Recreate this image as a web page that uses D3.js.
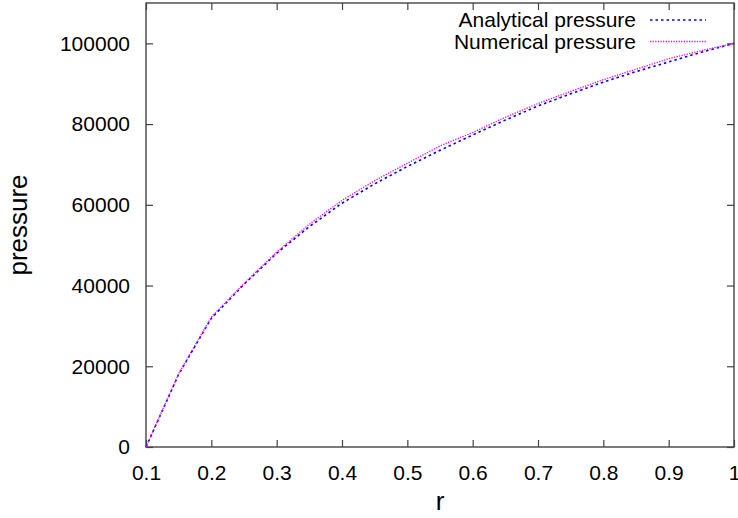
<!DOCTYPE html>
<html>
<head>
<meta charset="utf-8">
<script src="https://cdn.jsdelivr.net/npm/d3@7"></script>
<style>
  body { margin: 0; background: #fff; }
  text { font-family: "Liberation Sans", Arial, sans-serif; fill: #000; }
</style>
</head>
<body>
<div id="chart"></div>
<script>
// radius values sampled along the curves
const rValues = [0.1, 0.15, 0.2, 0.25, 0.3, 0.35, 0.4, 0.45, 0.5, 0.55, 0.6, 0.65, 0.7, 0.75, 0.8, 0.85, 0.9, 0.95, 1.0]
const analyticalPressure = [0, 18000, 31900, 40300, 48000, 54600, 60400, 65200, 69500, 73500, 77300, 81000, 84500, 87500, 90400, 93000, 95400, 97800, 100000]
const numericalPressure = [0, 18200, 32200, 40500, 48300, 55200, 61100, 66000, 70300, 74600, 77900, 81700, 85100, 88100, 91000, 93600, 96200, 98200, 100000]
const xTicks = [0.1, 0.2, 0.3, 0.4, 0.5, 0.6, 0.7, 0.8, 0.9, 1]
const yTicks = [0, 20000, 40000, 60000, 80000, 100000]

const width = 738,
  height = 518
const margin = { top: 3, right: 4, bottom: 71, left: 146 }

const svg = d3.select("#chart").append("svg").attr("width", width).attr("height", height)

const x = d3.scaleLinear().domain([0.1, 1]).range([margin.left, width - margin.right])
const y = d3.scaleLinear().domain([0, 110000]).range([height - margin.bottom, margin.top])

const tickLen = 7
const axisColor = "#444"

// inward ticks on all four sides
function styleAxis(g) {
  g.select(".domain").remove()
  g.selectAll(".tick line").attr("stroke", axisColor).attr("stroke-width", 1.2)
}

svg
  .append("g")
  .attr("transform", `translate(0,${y(0)})`)
  .call(d3.axisBottom(x).tickValues(xTicks).tickSize(-tickLen).tickPadding(tickLen + 11).tickFormat((d) => d3.format("")(d)))
  .call(styleAxis)
  .call((g) => g.selectAll("text").attr("font-size", 21).attr("font-family", "Liberation Sans, Arial, sans-serif"))

svg
  .append("g")
  .attr("transform", `translate(0,${margin.top})`)
  .call(d3.axisTop(x).tickValues(xTicks).tickSize(-tickLen).tickFormat(""))
  .call(styleAxis)

svg
  .append("g")
  .attr("transform", `translate(${margin.left},0)`)
  .call(d3.axisLeft(y).tickValues(yTicks).tickSize(-tickLen).tickPadding(tickLen + 9).tickFormat(d3.format("d")))
  .call(styleAxis)
  .call((g) => g.selectAll("text").attr("font-size", 21).attr("font-family", "Liberation Sans, Arial, sans-serif"))

svg
  .append("g")
  .attr("transform", `translate(${width - margin.right},0)`)
  .call(d3.axisRight(y).tickValues(yTicks).tickSize(-tickLen).tickFormat(""))
  .call(styleAxis)

// border box
svg
  .append("rect")
  .attr("x", margin.left)
  .attr("y", margin.top)
  .attr("width", width - margin.left - margin.right)
  .attr("height", height - margin.top - margin.bottom)
  .attr("fill", "none")
  .attr("stroke", axisColor)
  .attr("stroke-width", 1.4)

const line = d3
  .line()
  .x((d) => x(d[0]))
  .y((d) => y(d[1]))

const series = [
  { name: "Analytical pressure", values: analyticalPressure, color: "#0000ff", dash: "2.5,3", width: 1.6 },
  { name: "Numerical pressure", values: numericalPressure, color: "#ff00ff", dash: "1.3,1.3", width: 1.3 },
]

series.forEach((s, i) => {
  svg
    .append("path")
    .datum(rValues.map((r, j) => [r, s.values[j]]))
    .attr("d", line)
    .attr("fill", "none")
    .attr("stroke", s.color)
    .attr("stroke-width", s.width)
    .attr("stroke-dasharray", s.dash)

  // legend entry
  const ly = 20 + i * 21.5
  svg
    .append("text")
    .attr("x", 636)
    .attr("y", ly)
    .attr("dy", "0.35em")
    .attr("text-anchor", "end")
    .attr("font-size", 21)
    .text(s.name)
  svg
    .append("line")
    .attr("x1", 650)
    .attr("x2", 706)
    .attr("y1", ly)
    .attr("y2", ly)
    .attr("stroke", s.color)
    .attr("stroke-width", s.width)
    .attr("stroke-dasharray", s.dash)
})

// axis titles
svg
  .append("text")
  .attr("x", (margin.left + width - margin.right) / 2)
  .attr("y", 510)
  .attr("text-anchor", "middle")
  .attr("font-size", 26)
  .text("r")

svg
  .append("text")
  .attr("transform", "translate(27,225) rotate(-90)")
  .attr("text-anchor", "middle")
  .attr("font-size", 26)
  .text("pressure")
</script>
</body>
</html>
